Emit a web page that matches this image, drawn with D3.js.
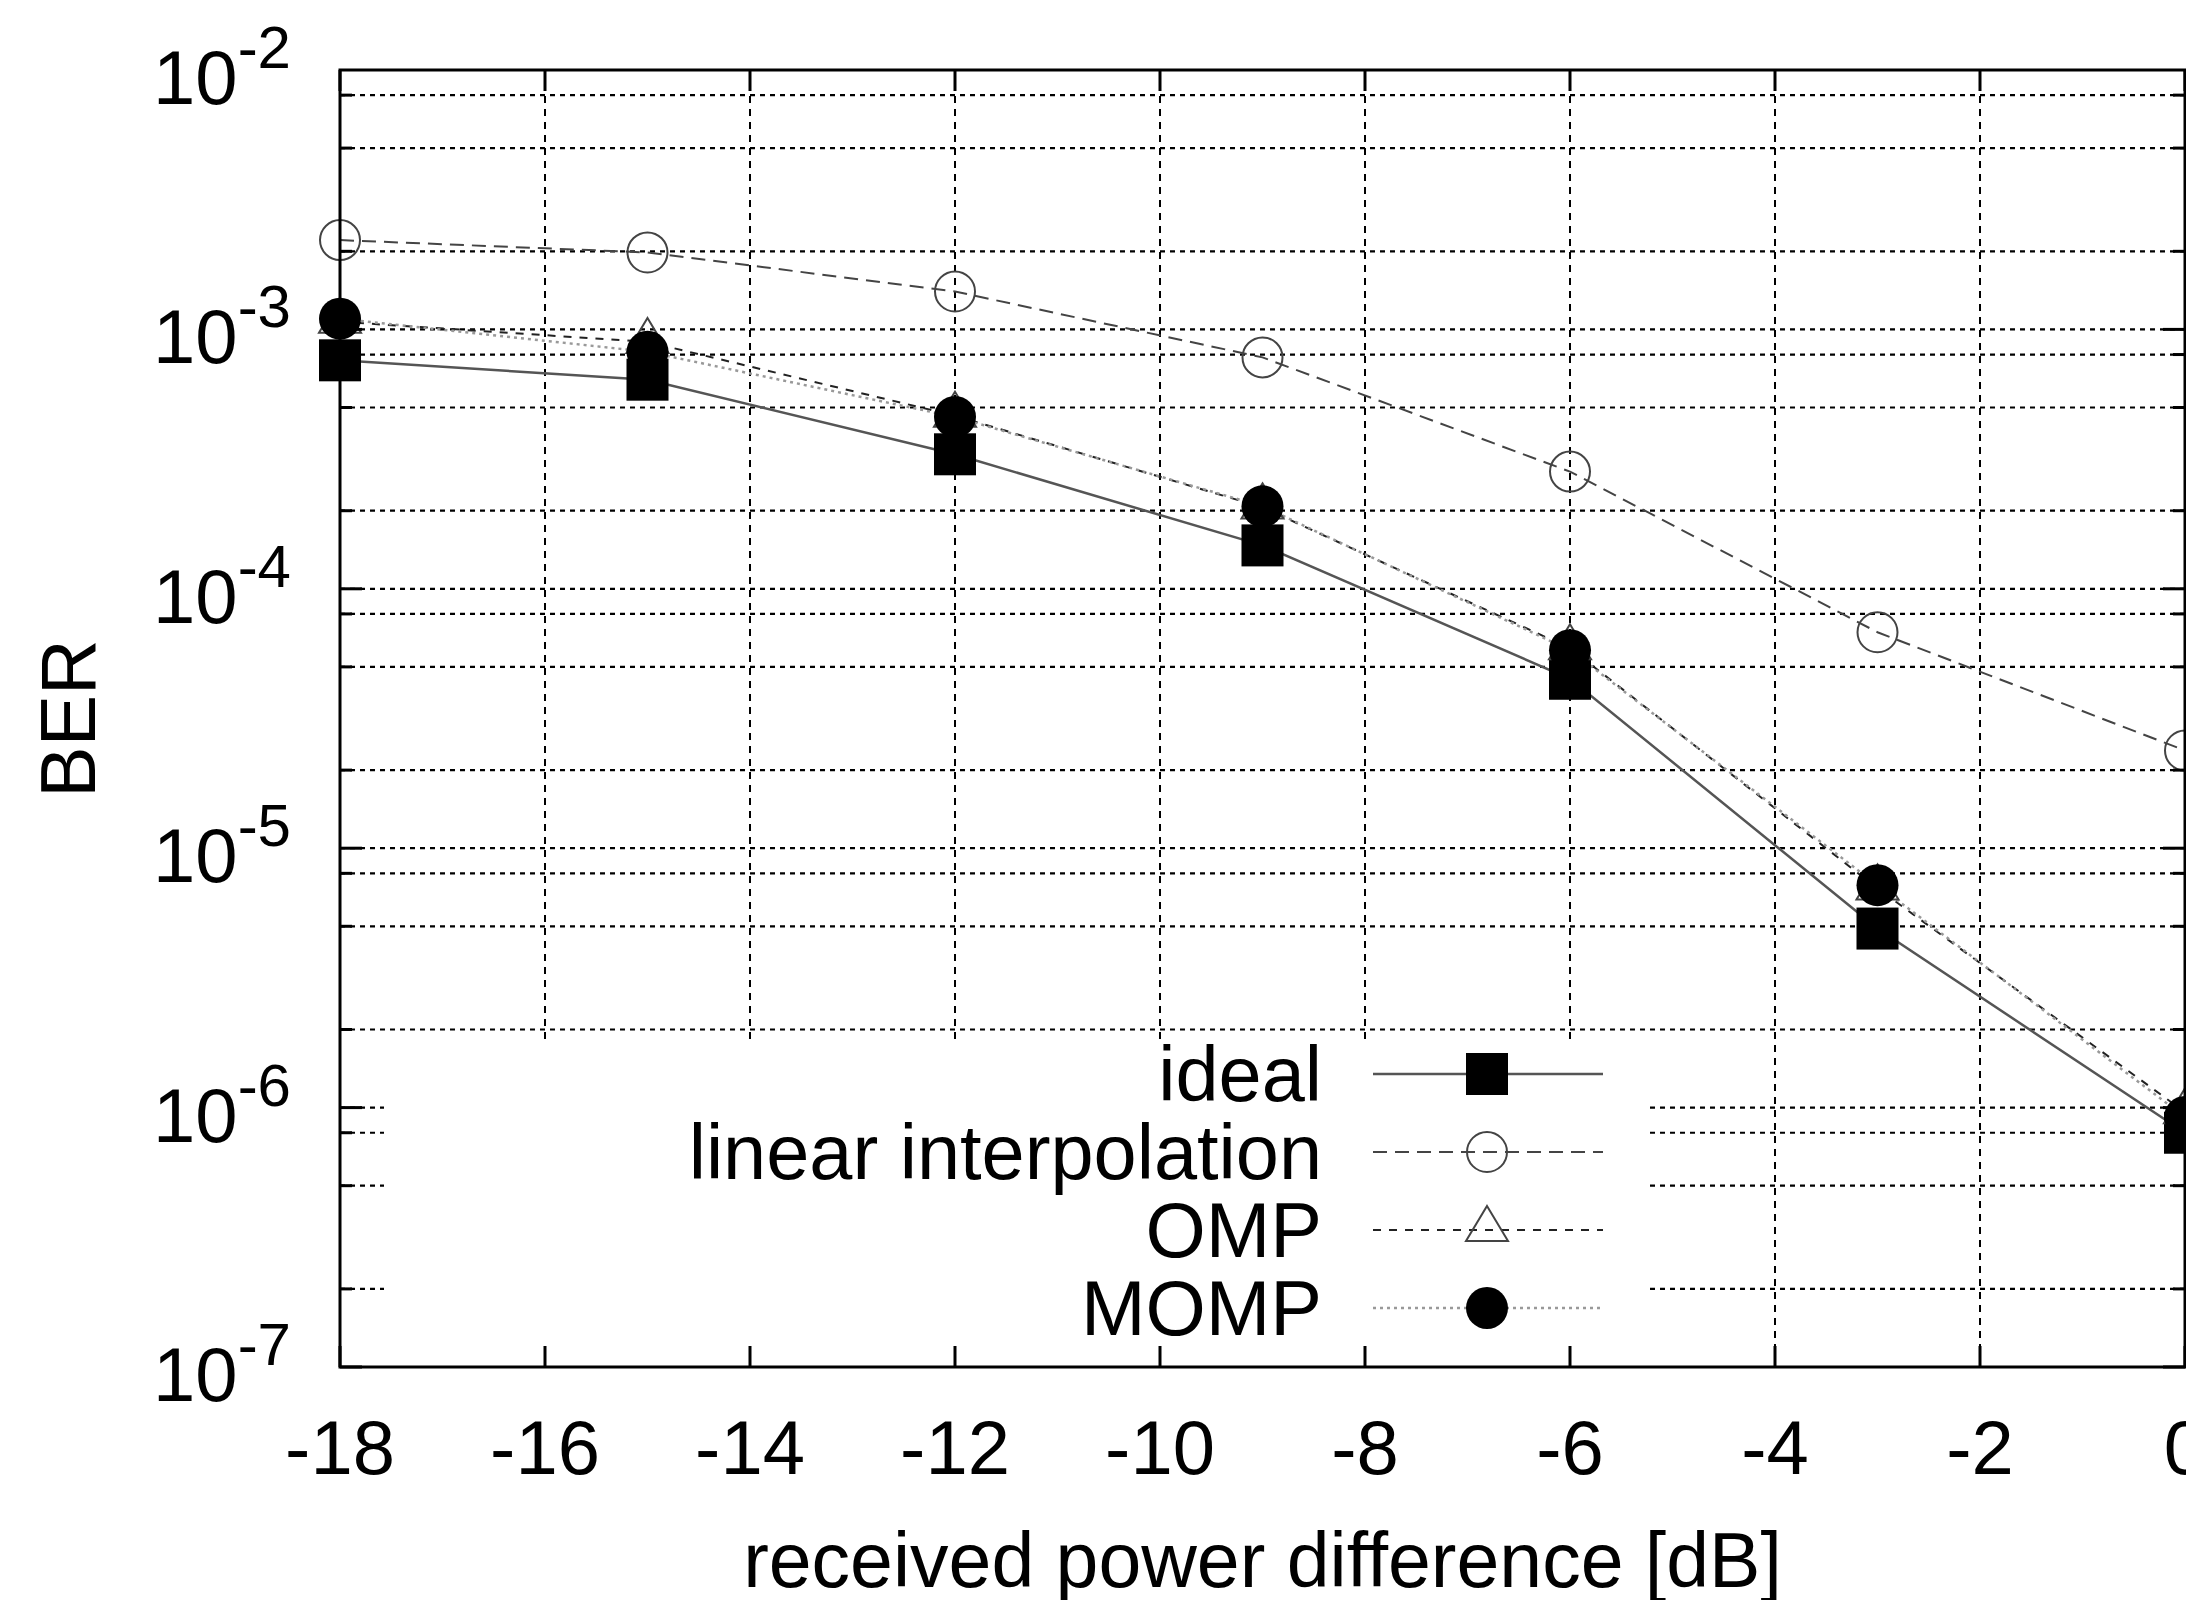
<!DOCTYPE html>
<html>
<head>
<meta charset="utf-8">
<script src="https://cdn.jsdelivr.net/npm/d3@7"></script>
<style>
  html, body { margin: 0; padding: 0; background: #fff; overflow: hidden; }
  svg { display: block; font-family: "Liberation Sans", Arial, sans-serif; }
</style>
</head>
<body>
<div id="chart"></div>
<script>
// received power difference [dB]
const powerDiff = [-18, -15, -12, -9, -6, -3, 0];

// BER per method
const berIdeal = [7.6e-4, 6.4e-4, 3.3e-4, 1.47e-4, 4.5e-5, 4.9e-6, 8.0e-7];
const berLinear = [2.21e-3, 1.98e-3, 1.4e-3, 7.8e-4, 2.83e-4, 6.8e-5, 2.38e-5];
const berOMP = [1.07e-3, 8.95e-4, 4.65e-4, 2.06e-4, 5.9e-5, 7.0e-6, 9.6e-7];
const berMOMP = [1.1e-3, 8.2e-4, 4.6e-4, 2.08e-4, 5.8e-5, 7.2e-6, 9.2e-7];

const seriesNames = ["ideal", "linear interpolation", "OMP", "MOMP"];
const xTicks = [-18, -16, -14, -12, -10, -8, -6, -4, -2, 0];
const yDecades = [-7, -6, -5, -4, -3, -2];
const yMinor = [2, 5, 8];

const width = 2186,
  height = 1600;
const plotLeft = 340,
  plotRight = 2185,
  plotTop = 70,
  plotBottom = 1367;

const svg = d3
  .select("#chart")
  .append("svg")
  .attr("width", width)
  .attr("height", height);

const x = d3.scaleLinear().domain([-18, 0]).range([plotLeft, plotRight]);
const y = d3.scaleLog().domain([1e-7, 1e-2]).range([plotBottom, plotTop]);

// grid values: 1,2,5,8 x 10^k
const gridVals = [];
yDecades.slice(0, -1).forEach((k) => {
  gridVals.push(Math.pow(10, k));
  yMinor.forEach((m) => gridVals.push(m * Math.pow(10, k)));
});

// Grid
const grid = svg.append("g");
grid
  .selectAll(".hgrid")
  .data(gridVals.filter((v) => v > 1e-7))
  .join("line")
  .attr("x1", plotLeft)
  .attr("x2", plotRight)
  .attr("y1", (d) => y(d))
  .attr("y2", (d) => y(d))
  .attr("stroke", "#000")
  .attr("stroke-width", 2.2)
  .attr("stroke-dasharray", "5,5");

grid
  .selectAll(".vgrid")
  .data(xTicks.slice(1, -1))
  .join("line")
  .attr("x1", (d) => x(d))
  .attr("x2", (d) => x(d))
  .attr("y1", plotTop)
  .attr("y2", plotBottom)
  .attr("stroke", "#000")
  .attr("stroke-width", 2)
  .attr("stroke-dasharray", "7,6");

// Series
const series = [
  { name: seriesNames[0], values: berIdeal, stroke: "#555", width: 2.5, dash: null, marker: "square" },
  { name: seriesNames[1], values: berLinear, stroke: "#444", width: 2, dash: "14,8", marker: "circle" },
  { name: seriesNames[2], values: berOMP, stroke: "#222", width: 2, dash: "8,8", marker: "triangle" },
  { name: seriesNames[3], values: berMOMP, stroke: "#999", width: 2.5, dash: "3,4", marker: "dot" },
];

const line = d3
  .line()
  .x((d, i) => x(powerDiff[i]))
  .y((d) => y(d));

function drawMarker(g, type, cx, cy) {
  if (type === "square") {
    g.append("rect")
      .attr("x", cx - 21)
      .attr("y", cy - 21)
      .attr("width", 42)
      .attr("height", 42)
      .attr("fill", "#000");
  } else if (type === "circle") {
    g.append("circle")
      .attr("cx", cx)
      .attr("cy", cy)
      .attr("r", 20)
      .attr("fill", "none")
      .attr("stroke", "#444")
      .attr("stroke-width", 2);
  } else if (type === "triangle") {
    g.append("path")
      .attr("d", `M${cx},${cy - 24}L${cx + 21},${cy + 11}L${cx - 21},${cy + 11}Z`)
      .attr("fill", "none")
      .attr("stroke", "#444")
      .attr("stroke-width", 2);
  } else {
    g.append("circle")
      .attr("cx", cx)
      .attr("cy", cy)
      .attr("r", 21)
      .attr("fill", "#000");
  }
}

const plot = svg.append("g");
series.forEach((s) => {
  plot
    .append("path")
    .datum(s.values)
    .attr("d", line)
    .attr("fill", "none")
    .attr("stroke", s.stroke)
    .attr("stroke-width", s.width)
    .attr("stroke-dasharray", s.dash);
});
series.forEach((s) => {
  s.values.forEach((v, i) => drawMarker(plot, s.marker, x(powerDiff[i]), y(v)));
});

// Legend (opaque key)
svg
  .append("rect")
  .attr("x", 384)
  .attr("y", 1039)
  .attr("width", 1647 - 384)
  .attr("height", plotBottom - 1039)
  .attr("fill", "#fff");

const legendRows = [1074, 1152, 1230, 1308];
const legend = svg.append("g");
series.forEach((s, i) => {
  const ry = legendRows[i];
  legend
    .append("text")
    .attr("x", 1322)
    .attr("y", ry + 27)
    .attr("text-anchor", "end")
    .attr("font-size", 77.5)
    .text(s.name);
  legend
    .append("line")
    .attr("x1", 1373)
    .attr("x2", 1603)
    .attr("y1", ry)
    .attr("y2", ry)
    .attr("stroke", s.stroke)
    .attr("stroke-width", s.width)
    .attr("stroke-dasharray", s.dash);
  drawMarker(legend, s.marker, 1487, ry);
});

// Ticks
const ticks = svg.append("g").attr("stroke", "#000").attr("stroke-width", 3);
xTicks.forEach((t) => {
  ticks.append("line").attr("x1", x(t)).attr("x2", x(t)).attr("y1", plotBottom).attr("y2", plotBottom - 21);
  ticks.append("line").attr("x1", x(t)).attr("x2", x(t)).attr("y1", plotTop).attr("y2", plotTop + 21);
});
gridVals.forEach((v) => {
  const major = Math.abs(Math.log10(v) - Math.round(Math.log10(v))) < 1e-9;
  const len = major ? 22 : 12;
  ticks.append("line").attr("x1", plotLeft).attr("x2", plotLeft + len).attr("y1", y(v)).attr("y2", y(v));
  ticks.append("line").attr("x1", plotRight).attr("x2", plotRight - len).attr("y1", y(v)).attr("y2", y(v));
});

// Border
svg
  .append("rect")
  .attr("x", plotLeft)
  .attr("y", plotTop)
  .attr("width", plotRight - plotLeft)
  .attr("height", plotBottom - plotTop)
  .attr("fill", "none")
  .attr("stroke", "#000")
  .attr("stroke-width", 3);

// Tick labels
svg
  .append("g")
  .selectAll("text")
  .data(xTicks)
  .join("text")
  .attr("x", (d) => x(d))
  .attr("y", 1474)
  .attr("text-anchor", "middle")
  .attr("font-size", 76)
  .text((d) => d);

const yLab = svg
  .append("g")
  .selectAll("text")
  .data(yDecades)
  .join("text")
  .attr("x", 291)
  .attr("y", (d) => y(Math.pow(10, d)) + 34)
  .attr("text-anchor", "end")
  .attr("font-size", 76);
yLab.append("tspan").text("10");
yLab
  .append("tspan")
  .attr("dy", -36)
  .attr("font-size", 60)
  .text((d) => d);

// Axis titles
svg
  .append("text")
  .attr("x", (plotLeft + plotRight) / 2)
  .attr("y", 1587)
  .attr("text-anchor", "middle")
  .attr("font-size", 77)
  .text("received power difference [dB]");

svg
  .append("text")
  .attr("transform", `translate(95,${(plotTop + plotBottom) / 2}) rotate(-90)`)
  .attr("text-anchor", "middle")
  .attr("font-size", 77)
  .text("BER");
</script>
</body>
</html>
